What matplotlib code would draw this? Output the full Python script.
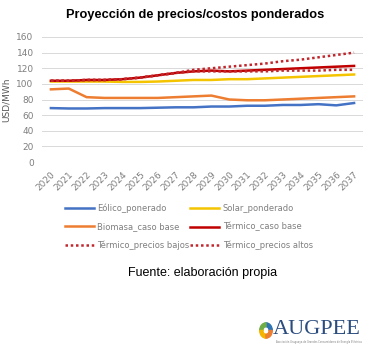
import matplotlib
matplotlib.use("Agg")
import matplotlib.pyplot as plt
from matplotlib.patches import Wedge
from matplotlib.lines import Line2D

years = [str(y) for y in range(2020, 2038)]
eolico = [69, 68.5, 68.5, 69, 69, 69, 69.5, 70, 70, 71, 71, 72, 72, 73, 73, 74, 72.5, 75.5]
solar = [103, 103, 103, 103, 102.5, 102.5, 103, 104, 105, 105, 106, 106, 107, 108, 109, 110, 111, 112]
biomasa = [93, 94, 83, 82, 82, 82, 82, 83, 84, 85, 80, 79, 79, 80, 81, 82, 83, 84]
termico_base = [104, 104, 105, 105, 106, 108, 111, 114, 116, 117, 116, 117, 118, 119, 120, 121, 122, 123]
termico_bajos = [104, 104, 105, 105, 106, 108, 111, 114, 116, 116, 116, 116, 116, 117, 117, 117, 118, 118]
termico_altos = [104, 104, 105, 105, 106, 108, 111, 114, 118, 120, 122, 124, 126, 129, 131, 134, 137, 140]

labels = ["Eólico_ponerado", "Solar_ponderado", "Biomasa_caso base",
          "Térmico_caso base", "Térmico_precios bajos", "Térmico_precios altos"]
yticks = [0, 20, 40, 60, 80, 100, 120, 140, 160]

W, H = 371, 347
fig = plt.figure(figsize=(W / 100, H / 100), dpi=100)
fig.patch.set_facecolor("white")

def fx(px):
    return px / W

def fy(py):
    return 1 - py / H

ax = fig.add_axes([fx(42), fy(162), fx(363) - fx(42), fy(37) - fy(162)])
x = list(range(len(years)))
c_blue = "#4472C4"
c_yel = "#F5C400"
c_or = "#ED7D31"
c_red = "#C00000"
c_dot = "#C0272D"
dots = (0, (1, 1.1))

ax.plot(x, eolico, color=c_blue, lw=1.8)
ax.plot(x, solar, color=c_yel, lw=1.8)
ax.plot(x, biomasa, color=c_or, lw=1.8)
ax.plot(x, termico_base, color=c_red, lw=1.8)
ax.plot(x, termico_bajos, color=c_dot, lw=1.8, ls=dots)
ax.plot(x, termico_altos, color=c_dot, lw=1.8, ls=dots)

ax.set_xlim(-0.5, len(years) - 0.5)
ax.set_ylim(0, 160)
ax.set_yticks(yticks)
ax.set_yticklabels([str(v) for v in yticks], fontsize=6.5, color="#7f7f7f")
ax.set_xticks(x)
ax.set_xticklabels(years, rotation=45, ha="right", rotation_mode="anchor",
                   fontsize=6.5, color="#7f7f7f")
ax.tick_params(length=0, pad=6)
ax.grid(axis="y", color="#d9d9d9", lw=0.7)
ax.set_axisbelow(True)
for s in ax.spines.values():
    s.set_visible(False)
ax.set_ylabel("USD/MWh", fontsize=6.5, color="#595959", labelpad=4)

fig.text(fx(195), fy(15), "Proyección de precios/costos ponderados",
         ha="center", va="center", fontsize=9.2, fontweight="bold",
         family=["Liberation Sans", "DejaVu Sans"])

styles = [dict(color=c_blue), dict(color=c_yel), dict(color=c_or),
          dict(color=c_red), dict(color=c_dot, ls=dots), dict(color=c_dot, ls=dots)]
handles = [Line2D([], [], lw=1.8, **st) for st in styles]
order = [0, 2, 4, 1, 3, 5]
leg = fig.legend([handles[i] for i in order], [labels[i] for i in order], ncol=2,
                 loc="upper left", bbox_to_anchor=(fx(57), fy(196)), frameon=False,
                 fontsize=6, handlelength=3.5, handletextpad=0.4,
                 columnspacing=0.1, labelspacing=1.1, labelcolor="#7f7f7f")

fig.text(fx(203), fy(273), "Fuente: elaboración propia", ha="center", va="center",
         fontsize=9, family=["Liberation Sans", "DejaVu Sans"])

# logo
fig.text(fx(273), fy(330), "AUGPEE", ha="left", va="center", fontsize=16,
         color="#2B4C7E", family=["Liberation Serif", "DejaVu Serif"])
fig.text(fx(276), fy(342), "Asociación Uruguaya de Grandes Consumidores de Energía Eléctrica",
         ha="left", va="center", fontsize=1.8, color="#7f7f7f")
lax = fig.add_axes([fx(259), fy(339), fx(273) - fx(259), fy(322) - fy(339)])
lax.set_xlim(-1, 1)
lax.set_ylim(-1, 1)
lax.axis("off")
for th1, th2, col in [(0, 90, "#2E75B6"), (90, 180, "#70AD47"),
                      (180, 270, "#F4B400"), (270, 360, "#ED7D31")]:
    lax.add_patch(Wedge((0, 0), 0.9, th1, th2, width=0.45, color=col))

fig.savefig("out.png", dpi=100)
